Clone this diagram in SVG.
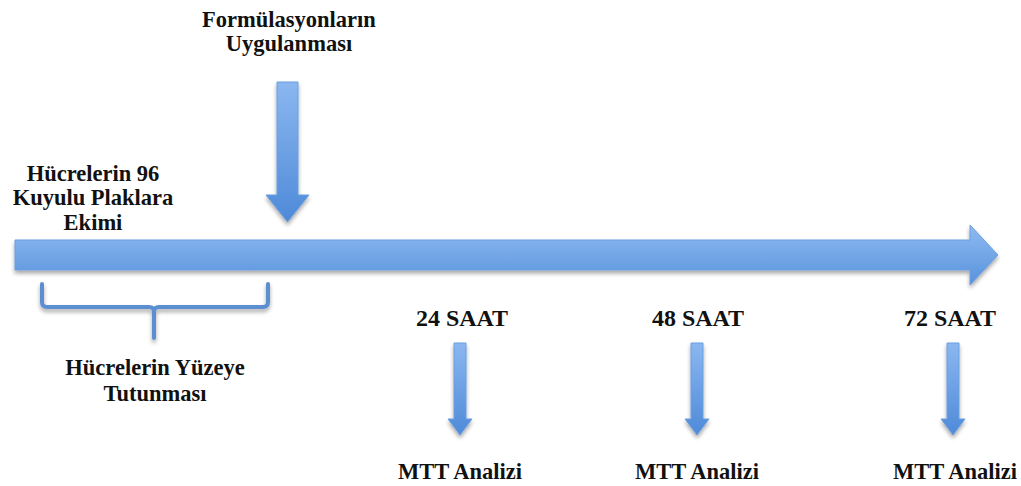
<svg xmlns="http://www.w3.org/2000/svg" width="1021" height="486" viewBox="0 0 1021 486">
<defs>
<linearGradient id="gh" x1="0" y1="0" x2="0" y2="1">
<stop offset="0" stop-color="#8fbaf2"/>
<stop offset="1" stop-color="#5893dc"/>
</linearGradient>
<linearGradient id="gv" x1="0" y1="0" x2="0" y2="1">
<stop offset="0" stop-color="#8bb7f0"/>
<stop offset="1" stop-color="#4e8ad8"/>
</linearGradient>
<filter id="sh" x="-20%" y="-20%" width="140%" height="160%">
<feGaussianBlur in="SourceAlpha" stdDeviation="2"/>
<feOffset dx="0" dy="3"/>
<feComponentTransfer><feFuncA type="linear" slope="0.35"/></feComponentTransfer>
<feMerge><feMergeNode/><feMergeNode in="SourceGraphic"/></feMerge>
</filter>
</defs>
<g id="connectors" filter="url(#sh)" stroke="#6a9ee0" stroke-width="1">
<path id="timeline" fill="url(#gh)" d="M15,240 H970 V225 L998,255 L970,285 V270 H15 Z"/>
<path id="arrow-form" fill="url(#gv)" d="M277,82 H298 V195 H309 L287.5,222 L266,195 H277 Z"/>
<path id="arrow-24" fill="url(#gv)" d="M454,343 H466 V419 H472 L460,435 L448,419 H454 Z"/>
<path id="arrow-48" fill="url(#gv)" d="M691,343 H703 V419 H709 L697,435 L685,419 H691 Z"/>
<path id="arrow-72" fill="url(#gv)" d="M947,343 H959 V419 H965 L953,435 L941,419 H947 Z"/>
<path id="bracket" fill="none" stroke="#5b8fd2" stroke-width="4" stroke-linejoin="round" stroke-linecap="round" d="M42,284 V302 Q42,307 47,307 H149 Q154,307 154,312 V338 M154,312 Q154,307 159,307 H263 Q268,307 268,302 V284"/>
</g>
<g font-family="Liberation Serif, serif" font-weight="bold" font-size="22.5" fill="#111" text-anchor="middle">
<g id="node-form"><text x="289" y="27">Formülasyonların</text><text x="289" y="51">Uygulanması</text></g>
<g id="node-ekim"><text x="93" y="181">Hücrelerin 96</text><text x="93" y="205">Kuyulu Plaklara</text><text x="93" y="230">Ekimi</text></g>
<g id="node-tutunma"><text x="155" y="375">Hücrelerin Yüzeye</text><text x="155" y="401">Tutunması</text></g>
<g id="node-24"><text font-size="24" x="462" y="326">24 SAAT</text><text x="460" y="479">MTT Analizi</text></g>
<g id="node-48"><text font-size="24" x="698" y="326">48 SAAT</text><text x="697" y="479">MTT Analizi</text></g>
<g id="node-72"><text font-size="24" x="950" y="326">72 SAAT</text><text x="955" y="479">MTT Analizi</text></g>
</g>
</svg>
